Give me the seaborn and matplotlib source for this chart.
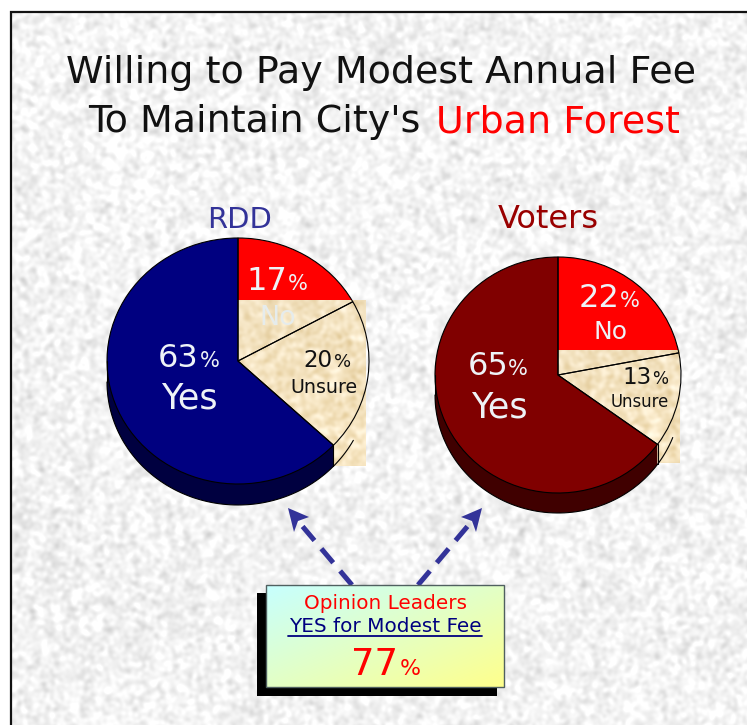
import numpy as np
import seaborn as sns
import matplotlib
matplotlib.use("Agg")
import matplotlib.pyplot as plt
from matplotlib.patches import Rectangle, Polygon

# values
slices = ["Yes", "Unsure", "No"]
rdd_values = [63, 20, 17]
voter_values = [65, 13, 22]
rdd_colors = sns.color_palette(["#000080", "#ff0000"])
voter_colors = sns.color_palette(["#800000", "#ff0000"])
rdd_side = "#000040"
voter_side = "#400000"
leaders_value = 77

W, H = 747, 725
sns.set_theme(style="white", rc={"patch.force_edgecolor": False})
plt.rcParams["font.family"] = ["DejaVu Sans"]
fig = plt.figure(figsize=(W / 100, H / 100), dpi=100, facecolor="white")


def paper(h, w, seed, size=2.0):
    # mottled paper texture, smoothed hash noise
    y, x = np.mgrid[0:h, 0:w]
    n = np.sin(x * 12.9898 + y * 78.233 + seed) * 43758.5453
    n = n - np.floor(n)
    fy = np.fft.fftfreq(h)[:, None]
    fx = np.fft.fftfreq(w)[None, :]
    g = np.exp(-2 * (np.pi * size) ** 2 * (fx ** 2 + fy ** 2))
    s = np.fft.ifft2(np.fft.fft2(n) * g).real
    return (s - s.mean()) / s.std()


# full slide axes in pixel units, y down
bg = fig.add_axes([0, 0, 1, 1], zorder=0)
tex = np.clip(243 + 8 * paper(H, W, 1.0), 190, 255)
sns.heatmap(tex, ax=bg, cmap="gray", vmin=0, vmax=255, cbar=False, xticklabels=False, yticklabels=False)
title_tex = np.clip(233 + 8 * paper(120, 696, 2.0, 1.6), 185, 250)
bg.imshow(title_tex, cmap="gray", vmin=0, vmax=255, extent=(33, 729, 155, 35), aspect="auto")
bg.add_patch(Rectangle((0, 0), W, 11, fc="white", ec="none"))
bg.add_patch(Rectangle((0, 0), 10, H, fc="white", ec="none"))
bg.plot([11, 11, W], [H, 12, 12], color="#111111", lw=1.6, solid_joinstyle="miter")
bg.set_xlim(0, W)
bg.set_ylim(H, 0)
bg.axis("off")


def draw_pie(cx, cy, rx, ry, depth, values, colors, side, patch_box):
    ax = fig.add_axes([(cx - rx) / W, 1 - (cy + ry) / H, 2 * rx / W, 2 * ry / H], zorder=1)
    kw = dict(startangle=90, counterclock=True)
    d = depth / ry
    line = dict(ec="black", lw=0.8, zorder=3)
    # red slice goes under the parchment
    ax.pie(values, colors=["none", "none", colors[1]], wedgeprops=dict(ec="none", lw=0, zorder=1), **kw)
    x0, x1, y0, y1 = patch_box
    shade = paper(y1 - y0, x1 - x0, 3.0, 2.0)
    ramp = np.linspace(0, 1, y1 - y0)[:, None]
    rgb = np.zeros((y1 - y0, x1 - x0, 3))
    for i, (c, sp) in enumerate(zip((242, 225, 190), (5, 7, 11))):
        rgb[..., i] = np.clip(c + sp * shade + 6 * ramp, 0, 255) / 255
    ax.imshow(rgb, extent=((x0 - cx) / rx, (x1 - cx) / rx, (cy - y1) / ry, (cy - y0) / ry),
              aspect="auto", clip_on=False, zorder=2)
    # side of the disc, stacked copies of the front slice, over the parchment
    for off in np.linspace(d, 0, depth + 1)[:-1]:
        ax.pie(values, colors=[side, "none", "none"], center=(0, -off),
               wedgeprops=dict(ec="none", lw=0, zorder=2.5), **kw)
    ax.pie(values, colors=[colors[0], "none", "none"], wedgeprops=line, **kw)
    # bottom edge of the disc
    end = np.deg2rad(90 + values[0] * 3.6)
    t = np.linspace(np.pi, end, 80)
    ax.plot(np.cos(t), np.sin(t) - d, color="black", lw=0.8, clip_on=False, zorder=4)
    # edge of the disc over the parchment
    t = np.linspace(end, end + 0.26, 20)
    ax.plot(np.cos(t), np.sin(t) - d, color="black", lw=0.8, clip_on=False, zorder=4)
    ax.plot([np.cos(end)] * 2, [np.sin(end), np.sin(end) - d], color="black", lw=0.8, clip_on=False, zorder=4)
    ax.plot([-1, -1], [0, -d], color="black", lw=0.8, clip_on=False, zorder=4)
    ax.set_aspect("auto")
    ax.set_xlim(-1, 1)
    ax.set_ylim(-1, 1)


draw_pie(238, 361, 131, 123, 21, rdd_values, rdd_colors, rdd_side, (238, 366, 300, 466))
draw_pie(558, 375, 123, 118, 20, voter_values, voter_colors, voter_side, (558, 680, 350, 463))

# overlay for text, arrows and the call-out box
top = fig.add_axes([0, 0, 1, 1], zorder=2)
top.set_xlim(0, W)
top.set_ylim(H, 0)
top.axis("off")


def put(s, x, y, px, color, ha="center", zorder=5):
    return top.text(x, y, s, fontsize=px * 0.72, color=color, ha=ha, va="baseline", zorder=zorder)


DARK = "#111111"
WHITE = "#eef3f7"
put("Willing to Pay Modest Annual Fee", 381, 83, 38, DARK)
put("To Maintain City's", 254, 132, 38, DARK)
put("Urban Forest", 558, 132, 38, "#ff0000")

put("RDD", 240, 228, 29, "#333399")
put("Voters", 548, 228, 32, "#990000")

# RDD labels
put(f"{rdd_values[0]}", 178, 367, 32, WHITE)
put("%", 210, 367, 21, WHITE)
put(slices[0], 189, 408, 35, WHITE)
put(f"{rdd_values[2]}", 267, 290, 32, WHITE)
put("%", 298, 290, 21, WHITE)
put(slices[2], 278, 325, 27, "#e6ecec")
put(f"{rdd_values[1]}", 318, 367, 23, DARK)
put("%", 343, 367, 18, DARK)
put(slices[1], 324, 393, 19, DARK)

# Voter labels
put(f"{voter_values[0]}", 488, 375, 32, WHITE)
put("%", 518, 375, 21, WHITE)
put(slices[0], 499, 417, 35, WHITE)
put(f"{voter_values[2]}", 599, 307, 32, WHITE)
put("%", 630, 307, 21, WHITE)
put(slices[2], 610, 339, 25, WHITE)
put(f"{voter_values[1]}", 637, 384, 23, DARK)
put("%", 660, 384, 17, DARK)
put(slices[1], 640, 407, 16.5, DARK)

# dashed arrows
ARROW = "#333399"
for xs, ys, head in [
    ((352, 298), (585, 521), [(288, 508), (309, 517), (298, 521), (294, 532)]),
    ((418, 472), (585, 521), [(482, 508), (461, 517), (472, 521), (476, 532)]),
]:
    top.plot(xs, ys, color=ARROW, lw=3.6, ls=(0, (3.68, 2.14)), dash_capstyle="butt", zorder=2)
    top.add_patch(Polygon(head, closed=True, fc=ARROW, ec="none", zorder=2))

# call-out box with shadow and diagonal gradient
top.add_patch(Rectangle((257, 593), 240, 103, fc="black", ec="none", zorder=3))
gy, gx = np.mgrid[0:1:64j, 0:1:128j]
mix = np.clip((gx + gy) / 2, 0, 1)[..., None]
grad = (1 - mix) * np.array([0.78, 1.0, 1.0]) + mix * np.array([1.0, 1.0, 0.55])
top.imshow(grad, extent=(266, 504, 687, 585), aspect="auto", zorder=3.1)
top.add_patch(Rectangle((266, 585), 238, 102, fc="none", ec="#506060", lw=1, zorder=3.2))
top.set_xlim(0, W)
top.set_ylim(H, 0)

put("Opinion Leaders", 385, 609, 20, "#ff0000")
put("YES for Modest Fee", 385, 632, 20, "#000080")
top.plot([288, 482], [635.5, 635.5], color="#000080", lw=1.3, zorder=5)
put(f"{leaders_value}", 375, 675, 37, "#ff0000")
put("%", 410, 675, 22, "#ff0000")

fig.savefig("out.png", dpi=100)
